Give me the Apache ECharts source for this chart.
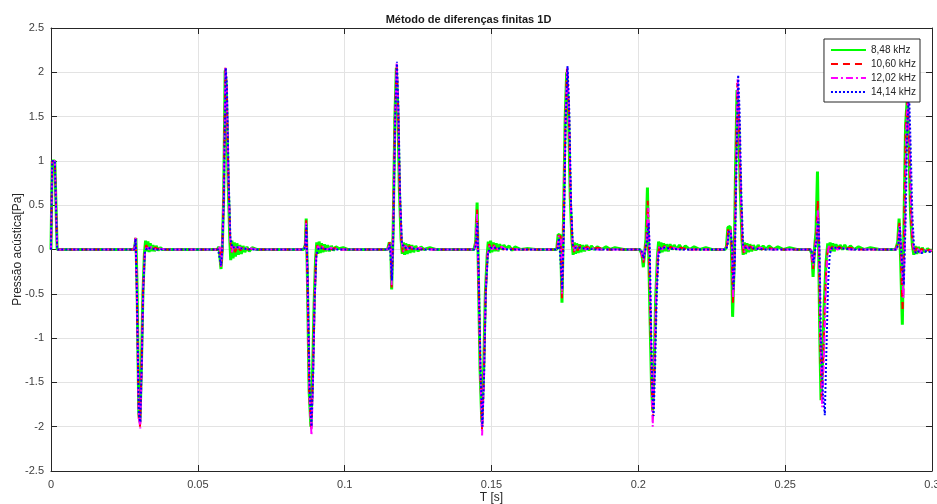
<!DOCTYPE html>
<html>
<head>
    <meta charset="UTF-8">
    <title>Método de diferenças finitas 1D</title>
    <script src="https://cdn.jsdelivr.net/npm/echarts@6/dist/echarts.min.js"></script>
    <style>
        html, body { margin: 0; padding: 0; background: #fff; }
    </style>
</head>
<body>
<div id="chart" style="width: 937px;height:504px;"></div>
<script type="text/javascript">
    // valores: [T (s), pressão (Pa)]
    var legendas = ['8,48 kHz', '10,60 kHz', '12,02 kHz', '14,14 kHz'];
    var xTicks = [0, 0.05, 0.1, 0.15, 0.2, 0.25, 0.3];
    var yTicks = [-2.5, -2, -1.5, -1, -0.5, 0, 0.5, 1, 1.5, 2, 2.5];

    var serie848 = [
        [0,0],[0.0004,1.0],[0.0013,1.0],[0.0021,0],
        [0.0282,0],[0.0286,0.05],[0.0289,0.13],[0.0293,-0.4],[0.0299,-1.85],[0.0303,-1.95],[0.0308,-1.3],[0.0313,-0.5],[0.0318,-0.05],[0.0322,0.1],[0.0326,-0.02],[0.0330,0.09],[0.0334,-0.03],[0.0338,0.07],[0.0342,-0.02],[0.0347,0.05],[0.0352,-0.02],[0.0358,0.04],[0.0365,-0.01],[0.0372,0.02],[0.038,0],
        [0.0566,0],[0.0572,0.03],[0.0576,0.05],[0.0579,-0.22],[0.0583,-0.02],[0.0588,0.6],[0.0593,2.02],[0.0597,1.85],[0.0603,0.8],[0.0609,0.1],[0.0612,-0.12],[0.0616,0.1],[0.0620,-0.1],[0.0624,0.08],[0.0628,-0.08],[0.0633,0.07],[0.0638,-0.06],[0.0643,0.05],[0.0648,-0.05],[0.0654,0.04],[0.0660,-0.03],[0.0667,0.03],[0.0675,-0.02],[0.0685,0.02],[0.0700,0],
        [0.0860,0],[0.0866,0.05],[0.0869,0.35],[0.0873,-0.3],[0.0879,-1.6],[0.0885,-2.0],[0.0890,-1.5],[0.0896,-0.6],[0.0901,-0.1],[0.0905,0.08],[0.0909,-0.05],[0.0913,0.09],[0.0917,-0.04],[0.0921,0.07],[0.0926,-0.03],[0.0931,0.06],[0.0936,-0.02],[0.0942,0.05],[0.0948,-0.02],[0.0955,0.04],[0.0962,-0.01],[0.0970,0.03],[0.0980,0.01],[0.0995,0.02],[0.1010,0],
        [0.1146,0],[0.1152,0.08],[0.1157,0.05],[0.1160,-0.45],[0.1165,0.2],[0.1171,1.5],[0.1176,2.05],[0.1181,1.6],[0.1186,0.7],[0.1192,0.12],[0.1196,-0.05],[0.1200,0.08],[0.1204,-0.06],[0.1208,0.07],[0.1213,-0.05],[0.1218,0.06],[0.1223,-0.04],[0.1229,0.05],[0.1235,-0.03],[0.1242,0.04],[0.1250,-0.02],[0.1260,0.03],[0.1270,0.0],[0.1290,0.02],[0.1310,0],
        [0.1440,0],[0.1446,0.08],[0.1451,0.53],[0.1455,-0.2],[0.1461,-1.35],[0.1467,-1.95],[0.1473,-1.4],[0.1479,-0.5],[0.1485,-0.08],[0.1489,0.09],[0.1493,-0.04],[0.1497,0.1],[0.1501,-0.03],[0.1506,0.08],[0.1511,-0.02],[0.1516,0.07],[0.1522,-0.02],[0.1528,0.06],[0.1535,0.0],[0.1542,0.05],[0.1550,0.01],[0.1560,0.04],[0.1570,-0.01],[0.1580,0.03],[0.1600,0],[0.1620,0.01],[0.1650,0],
        [0.1722,0],[0.1727,0.17],[0.1735,0.16],[0.1740,-0.6],[0.1745,0.3],[0.1751,1.5],[0.1756,2.0],[0.1762,1.6],[0.1768,0.6],[0.1774,0.1],[0.1778,-0.06],[0.1782,0.08],[0.1786,-0.05],[0.1790,0.07],[0.1795,-0.04],[0.1800,0.06],[0.1805,-0.03],[0.1811,0.05],[0.1817,-0.02],[0.1824,0.05],[0.1832,-0.01],[0.1840,0.04],[0.1850,0.0],[0.1860,0.03],[0.1875,0.0],[0.1890,0.03],[0.1905,0.0],[0.1920,0.02],[0.1950,0],
        [0.2005,0],[0.2012,-0.05],[0.2017,-0.2],[0.2021,-0.05],[0.2026,0.12],[0.2031,0.7],[0.2035,0.0],[0.2040,-0.8],[0.2045,-1.55],[0.2049,-1.82],[0.2054,-1.3],[0.2059,-0.55],[0.2065,-0.08],[0.2069,0.09],[0.2073,-0.04],[0.2077,0.08],[0.2081,-0.03],[0.2086,0.07],[0.2091,-0.02],[0.2096,0.06],[0.2102,-0.02],[0.2108,0.06],[0.2115,0.0],[0.2122,0.05],[0.2130,0.0],[0.2140,0.05],[0.2150,0.0],[0.2160,0.04],[0.2175,0.0],[0.2190,0.03],[0.2210,0.0],[0.2230,0.02],[0.2250,0],
        [0.2295,0],[0.2300,0.03],[0.2305,0.25],[0.2313,0.26],[0.2317,0.0],[0.2321,-0.76],[0.2326,-0.2],[0.2331,0.9],[0.2336,1.8],[0.2341,1.5],[0.2347,0.7],[0.2353,0.1],[0.2357,-0.06],[0.2361,0.08],[0.2365,-0.05],[0.2370,0.07],[0.2375,-0.03],[0.2380,0.06],[0.2386,-0.02],[0.2392,0.05],[0.2400,-0.01],[0.2408,0.05],[0.2416,0.0],[0.2425,0.04],[0.2435,0.0],[0.2445,0.04],[0.2460,0.0],[0.2475,0.03],[0.2495,0.0],[0.2515,0.02],[0.2540,0],
        [0.2585,0],[0.2591,-0.05],[0.2595,-0.31],[0.2600,0.02],[0.2605,0.2],[0.2610,0.88],[0.2614,0.0],[0.2618,-1.0],[0.2622,-1.70],[0.2627,-1.3],[0.2633,-0.6],[0.2639,-0.15],[0.2645,0.07],[0.2649,-0.03],[0.2653,0.08],[0.2657,-0.02],[0.2662,0.07],[0.2667,-0.02],[0.2673,0.06],[0.2680,0.0],[0.2687,0.05],[0.2695,0.0],[0.2703,0.05],[0.2712,0.0],[0.2722,0.04],[0.2735,0.0],[0.2750,0.03],[0.2770,0.0],[0.2790,0.02],[0.2820,0],
        [0.2876,0],[0.2883,0.08],[0.2888,0.35],[0.2893,-0.1],[0.2899,-0.85],[0.2904,0.2],[0.2910,1.4],[0.2916,1.72],[0.2921,1.2],[0.2927,0.4],[0.2933,0.05],[0.2938,-0.06],[0.2943,0.04],[0.2948,-0.05],[0.2954,0.03],[0.2960,-0.04],[0.2967,0.02],[0.2975,-0.03],[0.2985,0.01],[0.2993,-0.02],[0.3000,0]
    ];

    var serie1060 = [
        [0,0],[0.0004,1.0],[0.0013,1.0],[0.0021,0],
        [0.0283,0],[0.0288,0.13],[0.0292,-0.4],[0.0299,-1.9],[0.0303,-2.0],[0.0308,-1.35],[0.0313,-0.5],[0.0319,-0.04],[0.0324,0.05],[0.0330,0.01],[0.0336,0.03],[0.0345,0.0],[0.0355,0.02],[0.0370,0],
        [0.0568,0],[0.0575,0.04],[0.0579,-0.22],[0.0583,-0.02],[0.0588,0.6],[0.0594,2.05],[0.0598,1.85],[0.0604,0.8],[0.0610,0.12],[0.0615,-0.04],[0.0620,0.05],[0.0627,-0.03],[0.0635,0.04],[0.0645,-0.01],[0.0655,0.03],[0.0670,0.0],[0.0690,0.01],[0.0710,0],
        [0.0861,0],[0.0866,0.05],[0.0869,0.33],[0.0873,-0.3],[0.0879,-1.6],[0.0886,-2.05],[0.0891,-1.5],[0.0897,-0.6],[0.0902,-0.1],[0.0907,0.05],[0.0913,0.0],[0.0920,0.04],[0.0930,0.0],[0.0940,0.03],[0.0955,0.0],[0.0970,0.02],[0.0990,0],
        [0.1148,0],[0.1153,0.08],[0.1157,0.05],[0.1160,-0.43],[0.1165,0.2],[0.1171,1.5],[0.1177,2.08],[0.1182,1.6],[0.1187,0.7],[0.1193,0.1],[0.1198,-0.03],[0.1204,0.05],[0.1211,-0.02],[0.1220,0.04],[0.1230,0.0],[0.1242,0.03],[0.1260,0.0],[0.1280,0.01],[0.1300,0],
        [0.1441,0],[0.1446,0.06],[0.1451,0.45],[0.1455,-0.2],[0.1462,-1.4],[0.1468,-2.05],[0.1474,-1.4],[0.1480,-0.5],[0.1486,-0.06],[0.1492,0.06],[0.1499,0.0],[0.1507,0.05],[0.1517,0.0],[0.1528,0.04],[0.1540,0.0],[0.1555,0.02],[0.1580,0],
        [0.1723,0],[0.1728,0.16],[0.1735,0.15],[0.1740,-0.55],[0.1745,0.3],[0.1752,1.5],[0.1757,2.05],[0.1763,1.6],[0.1769,0.6],[0.1775,0.08],[0.1780,-0.03],[0.1786,0.05],[0.1793,-0.01],[0.1802,0.04],[0.1812,0.0],[0.1825,0.03],[0.1840,0.0],[0.1860,0.02],[0.1890,0],
        [0.2008,0],[0.2017,-0.15],[0.2022,-0.03],[0.2027,0.1],[0.2032,0.55],[0.2036,0.0],[0.2041,-0.8],[0.2046,-1.6],[0.2050,-1.9],[0.2055,-1.35],[0.2061,-0.5],[0.2067,-0.06],[0.2073,0.05],[0.2080,0.0],[0.2088,0.04],[0.2098,0.0],[0.2110,0.03],[0.2125,0.0],[0.2145,0.02],[0.2170,0],
        [0.2296,0],[0.2302,0.05],[0.2306,0.24],[0.2314,0.24],[0.2318,0.0],[0.2322,-0.6],[0.2327,-0.1],[0.2332,0.9],[0.2337,1.88],[0.2342,1.55],[0.2348,0.7],[0.2354,0.08],[0.2359,-0.04],[0.2365,0.05],[0.2372,-0.01],[0.2381,0.04],[0.2392,0.0],[0.2405,0.03],[0.2420,0.0],[0.2440,0.02],[0.2470,0],
        [0.2587,0],[0.2595,-0.22],[0.2601,0.02],[0.2606,0.15],[0.2611,0.56],[0.2615,0.0],[0.2619,-1.0],[0.2624,-1.72],[0.2629,-1.3],[0.2635,-0.6],[0.2641,-0.12],[0.2647,0.05],[0.2654,0.0],[0.2662,0.04],[0.2672,0.0],[0.2684,0.03],[0.2700,0.0],[0.2720,0.02],[0.2750,0],
        [0.2877,0],[0.2884,0.08],[0.2889,0.3],[0.2894,-0.1],[0.2900,-0.7],[0.2905,0.2],[0.2911,1.4],[0.2917,1.73],[0.2922,1.2],[0.2928,0.4],[0.2934,0.04],[0.2940,-0.05],[0.2947,0.02],[0.2955,-0.04],[0.2965,0.01],[0.2978,-0.03],[0.2990,0.0],[0.3000,-0.02]
    ];

    var serie1202 = [
        [0,0],[0.0004,1.0],[0.0013,1.0],[0.0021,0],
        [0.0283,0],[0.0288,0.14],[0.0292,-0.4],[0.0299,-1.9],[0.0304,-2.02],[0.0309,-1.3],[0.0314,-0.45],[0.0320,-0.03],[0.0326,0.04],[0.0334,0.0],[0.0342,0.03],[0.0355,0.0],[0.0370,0.01],[0.0390,0],
        [0.0568,0],[0.0575,0.03],[0.0579,-0.2],[0.0583,-0.02],[0.0588,0.6],[0.0594,2.05],[0.0598,1.85],[0.0604,0.8],[0.0610,0.12],[0.0616,-0.03],[0.0622,0.05],[0.0630,0.0],[0.0640,0.03],[0.0655,0.0],[0.0670,0.02],[0.0700,0],
        [0.0861,0],[0.0866,0.04],[0.0869,0.3],[0.0873,-0.3],[0.0880,-1.65],[0.0887,-2.1],[0.0892,-1.5],[0.0898,-0.55],[0.0903,-0.08],[0.0909,0.04],[0.0917,0.0],[0.0926,0.03],[0.0940,0.0],[0.0955,0.02],[0.0980,0],
        [0.1148,0],[0.1153,0.07],[0.1157,0.04],[0.1160,-0.4],[0.1165,0.2],[0.1172,1.5],[0.1177,2.1],[0.1182,1.6],[0.1188,0.6],[0.1194,0.08],[0.1200,-0.02],[0.1207,0.04],[0.1216,0.0],[0.1227,0.03],[0.1240,0.0],[0.1255,0.02],[0.1280,0],
        [0.1441,0],[0.1446,0.05],[0.1451,0.4],[0.1455,-0.2],[0.1462,-1.4],[0.1468,-2.1],[0.1474,-1.45],[0.1480,-0.5],[0.1487,-0.05],[0.1494,0.05],[0.1502,0.0],[0.1511,0.04],[0.1522,0.0],[0.1535,0.03],[0.1550,0.0],[0.1570,0.01],[0.1590,0],
        [0.1724,0],[0.1729,0.15],[0.1736,0.14],[0.1740,-0.5],[0.1746,0.3],[0.1752,1.5],[0.1758,2.05],[0.1764,1.55],[0.1770,0.5],[0.1776,0.06],[0.1782,-0.02],[0.1789,0.04],[0.1798,0.0],[0.1808,0.03],[0.1820,0.0],[0.1835,0.02],[0.1860,0],
        [0.2009,0],[0.2017,-0.12],[0.2022,-0.02],[0.2028,0.1],[0.2034,0.47],[0.2038,0.0],[0.2042,-0.8],[0.2046,-1.6],[0.2049,-2.0],[0.2054,-1.4],[0.2060,-0.55],[0.2066,-0.07],[0.2072,0.04],[0.2080,0.0],[0.2090,0.03],[0.2102,0.0],[0.2117,0.02],[0.2140,0],
        [0.2297,0],[0.2303,0.05],[0.2307,0.22],[0.2314,0.22],[0.2319,0.0],[0.2323,-0.55],[0.2328,-0.1],[0.2333,0.9],[0.2338,1.92],[0.2343,1.55],[0.2349,0.65],[0.2355,0.06],[0.2361,-0.03],[0.2368,0.04],[0.2377,0.0],[0.2388,0.03],[0.2400,0.0],[0.2415,0.02],[0.2440,0],
        [0.2588,0],[0.2596,-0.18],[0.2602,0.02],[0.2607,0.15],[0.2612,0.45],[0.2616,0.0],[0.2620,-1.0],[0.2626,-1.78],[0.2631,-1.3],[0.2637,-0.6],[0.2643,-0.1],[0.2649,0.04],[0.2657,0.0],[0.2666,0.03],[0.2678,0.0],[0.2692,0.02],[0.2720,0],
        [0.2878,0],[0.2885,0.07],[0.2890,0.28],[0.2896,-0.1],[0.2903,-0.55],[0.2908,0.2],[0.2913,1.4],[0.2919,1.72],[0.2924,1.2],[0.2930,0.4],[0.2936,0.04],[0.2942,-0.04],[0.2950,0.01],[0.2960,-0.03],[0.2972,0.0],[0.2985,-0.02],[0.3000,-0.01]
    ];

    var serie1414 = [
        [0,0],[0.0004,1.0],[0.0013,1.0],[0.0021,0],
        [0.0284,0],[0.0288,0.12],[0.0292,-0.4],[0.0299,-1.85],[0.0304,-1.95],[0.0309,-1.3],[0.0314,-0.45],[0.0320,-0.02],[0.0328,0.02],[0.0340,0.01],[0.0360,0],
        [0.0569,0],[0.0575,0.02],[0.0579,-0.18],[0.0583,-0.02],[0.0589,0.6],[0.0595,2.05],[0.0599,1.85],[0.0605,0.8],[0.0611,0.12],[0.0618,0.02],[0.0630,0.03],[0.0650,0.01],[0.0680,0],
        [0.0862,0],[0.0866,0.04],[0.0870,0.28],[0.0874,-0.3],[0.0881,-1.6],[0.0887,-2.0],[0.0892,-1.5],[0.0898,-0.55],[0.0904,-0.06],[0.0912,0.02],[0.0925,0.01],[0.0950,0],
        [0.1149,0],[0.1154,0.06],[0.1158,0.04],[0.1161,-0.35],[0.1166,0.2],[0.1172,1.5],[0.1178,2.12],[0.1183,1.6],[0.1189,0.6],[0.1195,0.07],[0.1203,0.02],[0.1215,0.02],[0.1235,0.01],[0.1260,0],
        [0.1442,0],[0.1447,0.05],[0.1452,0.3],[0.1456,-0.2],[0.1463,-1.4],[0.1469,-2.0],[0.1475,-1.4],[0.1481,-0.45],[0.1488,-0.04],[0.1496,0.02],[0.1510,0.02],[0.1530,0.01],[0.1560,0],
        [0.1725,0],[0.1730,0.13],[0.1736,0.12],[0.1741,-0.45],[0.1747,0.3],[0.1753,1.5],[0.1759,2.07],[0.1765,1.55],[0.1771,0.5],[0.1777,0.05],[0.1785,0.02],[0.1800,0.02],[0.1820,0.01],[0.1850,0],
        [0.2010,0],[0.2018,-0.1],[0.2023,-0.02],[0.2029,0.08],[0.2035,0.3],[0.2039,0.0],[0.2043,-0.8],[0.2048,-1.6],[0.2052,-1.88],[0.2057,-1.35],[0.2063,-0.5],[0.2069,-0.06],[0.2077,0.02],[0.2090,0.02],[0.2110,0.01],[0.2140,0],
        [0.2298,0],[0.2304,0.04],[0.2308,0.2],[0.2315,0.2],[0.2320,0.0],[0.2324,-0.45],[0.2329,-0.1],[0.2334,0.9],[0.2340,1.97],[0.2345,1.55],[0.2351,0.6],[0.2357,0.05],[0.2365,0.02],[0.2380,0.02],[0.2400,0.01],[0.2430,0],
        [0.2589,0],[0.2597,-0.15],[0.2603,0.02],[0.2608,0.12],[0.2613,0.35],[0.2617,0.0],[0.2622,-1.0],[0.2628,-1.6],[0.2635,-1.87],[0.2640,-1.2],[0.2646,-0.4],[0.2652,-0.05],[0.2660,0.02],[0.2675,0.02],[0.2700,0.01],[0.2730,0],
        [0.2879,0],[0.2886,0.06],[0.2891,0.25],[0.2897,-0.1],[0.2904,-0.4],[0.2910,0.3],[0.2916,1.4],[0.2922,1.76],[0.2927,1.2],[0.2933,0.4],[0.2939,0.02],[0.2945,-0.04],[0.2955,-0.02],[0.2965,-0.04],[0.2980,-0.02],[0.3000,-0.03]
    ];

    var fonte = '"Liberation Sans", Arial, Helvetica, sans-serif';

    function linha(nome, dados, cor, largura, tipo) {
        return {
            name: nome,
            type: 'line',
            data: dados,
            showSymbol: false,
            symbol: 'none',
            sampling: null,
            animation: false,
            lineStyle: { color: cor, width: largura, type: tipo },
            itemStyle: { color: cor },
            emphasis: { disabled: true }
        };
    }

    var eixoX = {
        type: 'value',
        min: xTicks[0],
        max: xTicks[xTicks.length - 1],
        interval: xTicks[1] - xTicks[0],
        axisLine: { onZero: false, lineStyle: { color: '#262626', width: 1 } },
        axisTick: { inside: true, length: 6, lineStyle: { color: '#262626' } },
        axisLabel: { color: '#404040', fontSize: 11, fontFamily: fonte, margin: 8 },
        splitLine: { show: true, lineStyle: { color: '#e3e3e3', width: 1 } }
    };
    var eixoY = {
        type: 'value',
        min: yTicks[0],
        max: yTicks[yTicks.length - 1],
        interval: yTicks[1] - yTicks[0],
        axisLine: { onZero: false, lineStyle: { color: '#262626', width: 1 } },
        axisTick: { inside: true, length: 6, lineStyle: { color: '#262626' } },
        axisLabel: { color: '#404040', fontSize: 11, fontFamily: fonte, margin: 7 },
        splitLine: { show: true, lineStyle: { color: '#e3e3e3', width: 1 } }
    };

    var option = {
        backgroundColor: '#fff',
        animation: false,
        title: {
            text: 'Método de diferenças finitas 1D',
            left: 'center',
            top: 9,
            textStyle: { fontSize: 11, fontWeight: 'bold', color: '#1a1a1a', fontFamily: fonte }
        },
        legend: {
            data: legendas,
            orient: 'vertical',
            right: 17,
            top: 39,
            itemWidth: 35,
            itemHeight: 10,
            itemGap: 4,
            padding: [6, 4, 5, 6],
            backgroundColor: '#fff',
            borderColor: '#262626',
            borderWidth: 1,
            borderRadius: 0,
            itemStyle: { opacity: 0 },
            textStyle: { fontSize: 10, color: '#262626', fontFamily: fonte },
            z: 10
        },
        grid: { left: 51, right: 5, top: 28, bottom: 33, containLabel: false, outerBoundsMode: 'none' },
        xAxis: [
            Object.assign({}, eixoX, {
                position: 'bottom',
                name: 'T [s]',
                nameLocation: 'middle',
                nameGap: 21,
                nameMoveOverlap: false,
                nameTextStyle: { fontSize: 12, color: '#262626', fontFamily: fonte }
            }),
            Object.assign({}, eixoX, {
                position: 'top',
                axisLabel: { show: false },
                splitLine: { show: false }
            })
        ],
        yAxis: [
            Object.assign({}, eixoY, {
                position: 'left',
                name: 'Pressão acústica[Pa]',
                nameLocation: 'middle',
                nameGap: 27,
                nameMoveOverlap: false,
                nameTextStyle: { fontSize: 12, color: '#262626', fontFamily: fonte }
            }),
            Object.assign({}, eixoY, {
                position: 'right',
                axisLabel: { show: false },
                splitLine: { show: false }
            })
        ],
        series: [
            linha(legendas[0], serie848, '#00ff00', 3, 'solid'),
            linha(legendas[1], serie1060, '#ff0000', 2, [7, 5]),
            linha(legendas[2], serie1202, '#ff00ff', 2, [7, 3, 2, 3]),
            linha(legendas[3], serie1414, '#0000ff', 2, [2, 2])
        ]
    };

    var myChart = echarts.init(document.getElementById('chart'));
    myChart.setOption(option);
</script>
</body>
</html>
